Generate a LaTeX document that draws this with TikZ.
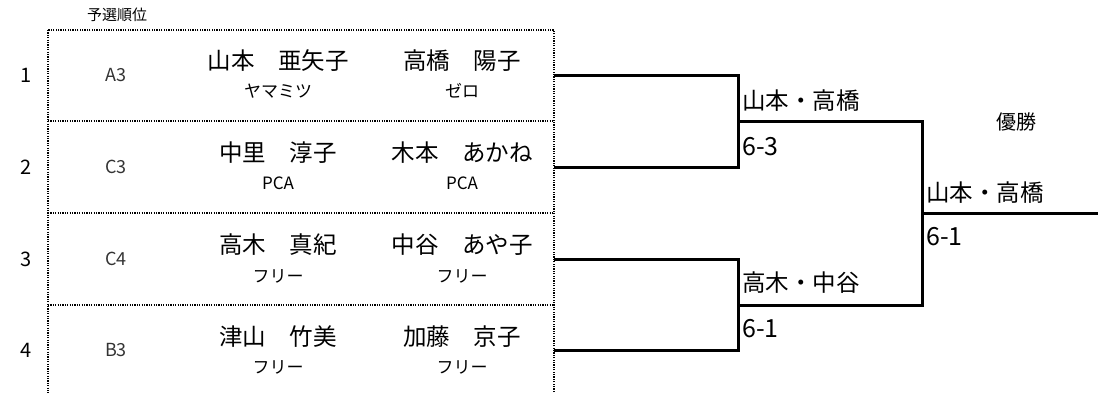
\documentclass[tikz,border=0pt]{standalone}
\usepackage{fontspec}
\setmainfont{Noto Sans CJK JP}
\usetikzlibrary{positioning}

\tikzset{
    rowbox/.style={minimum width=506pt, inner sep=0pt, outer sep=0pt},
    dotline/.style={draw, line width=1.2pt, dash pattern=on 1.2pt off 1.2pt},
    bracket/.style={draw=black, line width=3pt},
    winner/.style={anchor=west, inner sep=0pt, font=\fontsize{23.5}{28}\selectfont},
    score/.style={anchor=west, inner sep=0pt, font=\fontsize{25}{30}\selectfont},
}

\begin{document}
\begin{tikzpicture}[x=1pt,y=-1pt]
    \useasboundingbox (0,0) rectangle (1098,392);
    \node[font=\fontsize{15}{18}\selectfont] (head) at (117,15) {予選順位};
    % entry rows
    \node[rowbox, minimum height=91pt] (r1) at (301,75.5) {};
    \node[rowbox, minimum height=92pt] (r2) at (301,167) {};
    \node[rowbox, minimum height=92pt] (r3) at (301,259) {};
    \node[rowbox, minimum height=91pt] (r4) at (301,350.5) {};
    \draw[dotline] (r1.north west) rectangle (r4.south east);
    \draw[dotline] (r1.south west) -- (r1.south east);
    \draw[dotline] (r2.south west) -- (r2.south east);
    \draw[dotline] (r3.south west) -- (r3.south east);
    \begin{scope}[every node/.style={font=\fontsize{20}{24}\selectfont}]
        \node (k1) at (26,75.5) {1};
        \node (k2) at (26,167) {2};
        \node (k3) at (26,259) {3};
        \node (k4) at (26,350.5) {4};
    \end{scope}
    \begin{scope}[every node/.style={text=black!80, font=\fontsize{18}{22}\selectfont}]
        \node (s1) at (116,75.5) {A3};
        \node (s2) at (116,167) {C3};
        \node (s3) at (116,259) {C4};
        \node (s4) at (116,350.5) {B3};
    \end{scope}
    \begin{scope}[every node/.style={font=\fontsize{23.5}{28}\selectfont}]
        \node (p1a) at (278,61) {山本　亜矢子};
        \node (p1b) at (462,61) {高橋　陽子};
        \node (p2a) at (278,153) {中里　淳子};
        \node (p2b) at (462,153) {木本　あかね};
        \node (p3a) at (278,245) {高木　真紀};
        \node (p3b) at (462,245) {中谷　あや子};
        \node (p4a) at (278,337) {津山　竹美};
        \node (p4b) at (462,337) {加藤　京子};
    \end{scope}
    \begin{scope}[every node/.style={font=\fontsize{17}{20}\selectfont}]
        \node (c1a) at (278,91) {ヤマミツ};
        \node (c1b) at (462,91) {ゼロ};
        \node (c2a) at (278,183) {PCA};
        \node (c2b) at (462,183) {PCA};
        \node (c3a) at (278,276) {フリー};
        \node (c3b) at (462,276) {フリー};
        \node (c4a) at (278,367) {フリー};
        \node (c4b) at (462,367) {フリー};
    \end{scope}
    % bracket
    \coordinate (q1) at (738,121);
    \coordinate (q2) at (738,305);
    \coordinate (f1) at (922,121);
    \coordinate (f2) at (922,305);
    \coordinate (fc) at (922,213);
    \coordinate (out) at (1098,213);
    \draw[bracket] (r1.east) -| (q1) |- (r2.east);
    \draw[bracket] (r3.east) -| (q2) |- (r4.east);
    \draw[bracket] (q1) -- (f1) -- (f2) -- (q2);
    \draw[bracket] (fc) -- (out);
    \node[winner] (w1) at (742,101) {山本・高橋};
    \node[score] (sc1) at (742,147) {6-3};
    \node[winner] (w2) at (742,283) {高木・中谷};
    \node[score] (sc2) at (742,329) {6-1};
    \node[winner] (w3) at (926,193) {山本・高橋};
    \node[score] (sc3) at (926,237) {6-1};
    \node[font=\fontsize{20}{24}\selectfont] (champ) at (1016,122) {優勝};
\end{tikzpicture}
\end{document}
